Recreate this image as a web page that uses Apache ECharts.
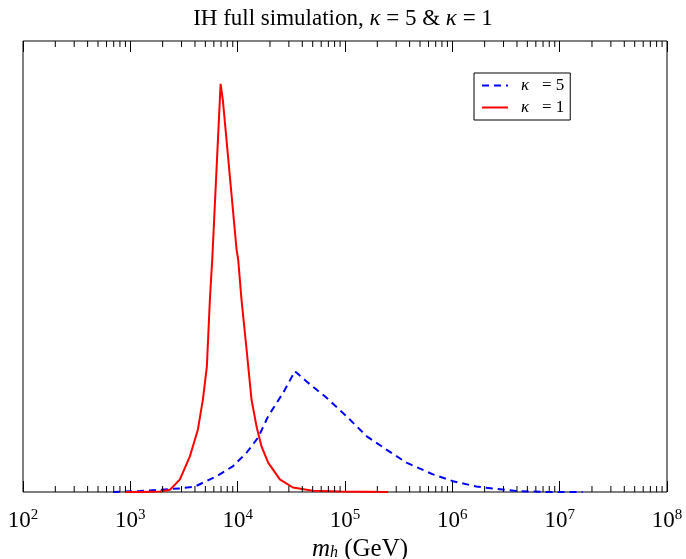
<!DOCTYPE html>
<html>
<head>
<meta charset="utf-8">
<script src="https://cdn.jsdelivr.net/npm/echarts@6/dist/echarts.min.js"></script>
<style>
html,body{margin:0;padding:0;background:#fff;}
#chart{width:686px;height:559px;}
</style>
</head>
<body>
<div id="chart"></div>
<script>
// kappa = 5 (blue dashed): mass in GeV, relative height
const blueMass = [689, 1227, 2897, 3990, 6368, 9016, 12106, 15524, 19231, 26546, 34119, 43853, 67298, 103276, 158489, 243220, 374111, 660693, 1013911, 1674943, 3953666, 8072000, 16370000];
const blueVal  = [0, 0.002, 0.008, 0.012, 0.035, 0.057, 0.087, 0.121, 0.168, 0.220, 0.268, 0.245, 0.209, 0.168, 0.124, 0.094, 0.065, 0.039, 0.024, 0.012, 0.002, 0, 0];
// kappa = 1 (red solid)
const redMass = [891, 1230, 1888, 2344, 2897, 3589, 4256, 4742, 5164, 5508, 5794, 6934, 7278, 9772, 10116, 10864, 12106, 13459, 14997, 16672, 19231, 24717, 32659, 50119, 89125, 251189];
const redVal  = [0, 0, 0.001, 0.005, 0.028, 0.079, 0.138, 0.205, 0.278, 0.426, 0.515, 0.905, 0.869, 0.537, 0.515, 0.426, 0.316, 0.205, 0.145, 0.101, 0.065, 0.028, 0.010, 0.003, 0.001, 0];
// minor tick positions on the log axis
const minorTicks = [];
const decades = [100, 1000, 10000, 100000, 1000000, 10000000];
const mults = [2, 3, 4, 5, 6, 7, 8, 9];
decades.forEach(d => mults.forEach(m => minorTicks.push(d * m)));

const names = ['κ = 5', 'κ = 1'];
const serif = 'Liberation Serif';

const chart = echarts.init(document.getElementById('chart'));
const minorLen = 6;

chart.setOption({
  animation: false,
  backgroundColor: '#fff',
  title: {
    text: '{n|IH full simulation, }{k|κ}{n| = 5 & }{k|κ}{n| = 1}',
    left: 'center',
    top: 2,
    textStyle: {
      fontWeight: 'normal',
      rich: {
        n: {fontFamily: serif, fontSize: 23, fontWeight: 'normal', color: '#000'},
        k: {fontFamily: serif, fontSize: 23, fontWeight: 'normal', fontStyle: 'italic', color: '#000'}
      }
    }
  },
  legend: {
    orient: 'vertical',
    left: 474,
    top: 73,
    data: names,
    itemWidth: 26,
    itemHeight: 12,
    itemGap: 5,
    padding: [4, 6, 4, 7],
    borderColor: '#000',
    borderWidth: 1,
    borderRadius: 0,
    itemStyle: {color: 'transparent', borderColor: 'transparent', borderWidth: 0, opacity: 0},
    formatter: function (name) {
      return '{k|κ}{t|  ' + name.slice(1) + '}';
    },
    textStyle: {
      padding: [0, 0, 0, 8],
      rich: {
        k: {fontFamily: serif, fontSize: 17, fontStyle: 'italic', color: '#000'},
        t: {fontFamily: serif, fontSize: 17, color: '#000'}
      }
    }
  },
  grid: {
    left: 23, right: 19, top: 41, bottom: 67,
    outerBoundsMode: 'none',
    containLabel: false,
    show: true, borderColor: '#000', borderWidth: 1, backgroundColor: 'transparent'
  },
  xAxis: [{
    type: 'log',
    logBase: 10,
    min: 100,
    max: 100000000,
    splitNumber: 6,
    position: 'bottom',
    axisLine: {show: false},
    axisTick: {show: true, inside: true, length: 11, lineStyle: {color: '#000'}},
    splitLine: {show: false},
    axisLabel: {
      margin: 16,
      formatter: function (v) {
        const e = Math.round(Math.log10(v));
        return '{b|10}{s|' + e + '}';
      },
      rich: {
        b: {fontFamily: serif, fontSize: 23, color: '#000'},
        s: {fontFamily: serif, fontSize: 15, color: '#000', padding: [0, 0, 11, 0]}
      }
    },
    name: '{i|m}{h|h}{n| (GeV)}',
    nameLocation: 'middle',
    nameGap: 41,
    nameTextStyle: {
      padding: [0, 0, 0, 30],
      rich: {
        i: {fontFamily: serif, fontSize: 25, fontStyle: 'italic', color: '#000', lineHeight: 26},
        h: {fontFamily: serif, fontSize: 16, fontStyle: 'italic', color: '#000', lineHeight: 26, padding: [6, 0, 0, 0]},
        n: {fontFamily: serif, fontSize: 25, color: '#000', lineHeight: 26}
      }
    }
  }, {
    type: 'log',
    logBase: 10,
    min: 100,
    max: 100000000,
    splitNumber: 6,
    position: 'top',
    axisLine: {show: false},
    axisTick: {show: true, inside: true, length: 11, lineStyle: {color: '#000'}},
    splitLine: {show: false},
    axisLabel: {show: false}
  }],
  yAxis: [{
    type: 'value',
    min: 0,
    max: 1,
    axisLine: {show: false},
    axisTick: {show: false},
    axisLabel: {show: false},
    splitLine: {show: false}
  }],
  series: [{
    name: names[0],
    type: 'line',
    data: blueMass.map((m, i) => [m, blueVal[i]]),
    symbol: 'none',
    showSymbol: false,
    smooth: false,
    lineStyle: {color: '#0000ff', width: 2, type: [7, 5]},
    itemStyle: {color: '#0000ff'},
    z: 3
  }, {
    name: names[1],
    type: 'line',
    data: redMass.map((m, i) => [m, redVal[i]]),
    symbol: 'none',
    showSymbol: false,
    smooth: false,
    lineStyle: {color: '#ff0000', width: 2},
    itemStyle: {color: '#ff0000'},
    z: 4
  }, {
    type: 'custom',
    silent: true,
    z: 5,
    data: minorTicks.map(v => [v, 0]),
    renderItem: function (params, api) {
      const x = api.coord([api.value(0), 0])[0];
      const cs = params.coordSys;
      const top = cs.y, bot = cs.y + cs.height;
      return {
        type: 'group',
        children: [
          {type: 'line', shape: {x1: x, y1: bot, x2: x, y2: bot - minorLen}, style: {stroke: '#000', lineWidth: 1}},
          {type: 'line', shape: {x1: x, y1: top, x2: x, y2: top + minorLen}, style: {stroke: '#000', lineWidth: 1}}
        ]
      };
    }
  }]
});
</script>
</body>
</html>
